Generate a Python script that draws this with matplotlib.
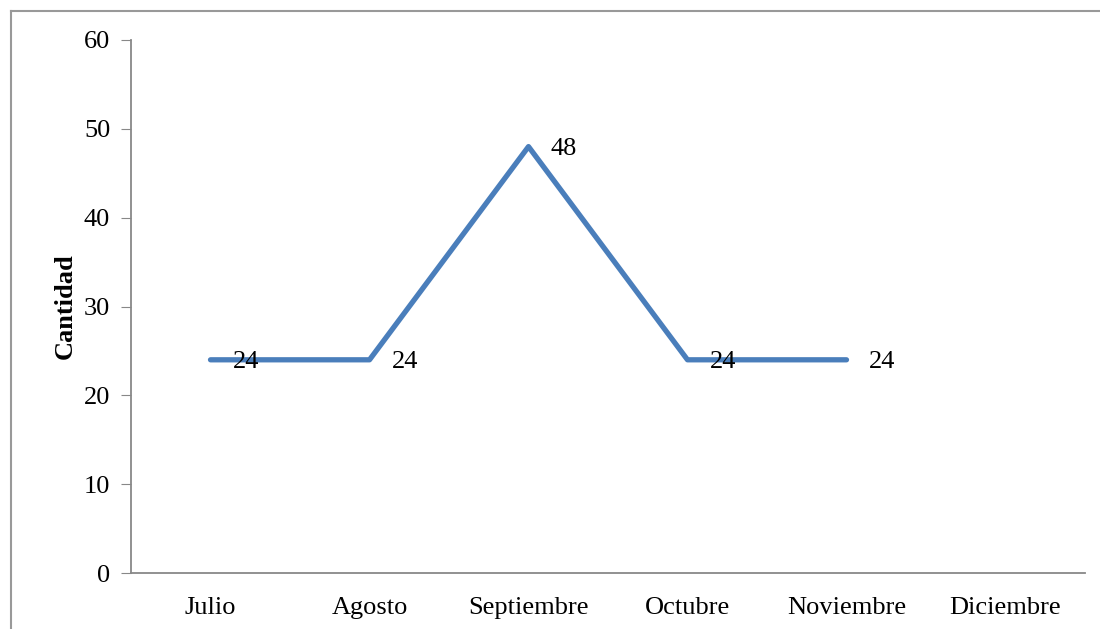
import matplotlib
matplotlib.use("Agg")
import matplotlib.pyplot as plt
import numpy as np

meses = ["Julio", "Agosto", "Septiembre", "Octubre", "Noviembre", "Diciembre"]
cantidad = [24, 24, 48, 24, 24, np.nan]

plt.rcParams["font.family"] = ["Liberation Serif", "DejaVu Serif"]

fig = plt.figure(figsize=(11, 6.29), dpi=100)
ax = fig.add_axes([131 / 1100, 56 / 629, 954 / 1100, 533 / 629])

x = np.arange(len(meses))
ax.plot(x, cantidad, color="#4A7EBB", linewidth=3.8, solid_capstyle="round")

# etiquetas de datos
for xi, v in zip(x, cantidad):
    if not np.isnan(v):
        ax.annotate(str(int(v)), (xi, v), xytext=(16, -1.5), textcoords="offset points",
                    va="center", ha="left", fontsize=19)

ax.set_xlim(-0.5, len(meses) - 0.5)
ax.set_ylim(0, 60)
ax.set_yticks(range(0, 61, 10))
ax.set_xticks(x)
ax.set_xticklabels(meses, fontsize=19)
ax.tick_params(axis="y", labelsize=19, length=7, color="#888888", direction="out", pad=8)
ax.tick_params(axis="x", length=0, pad=17)
ax.set_ylabel("Cantidad", fontsize=19, fontweight="bold", labelpad=5)

for s in ["top", "right"]:
    ax.spines[s].set_visible(False)
for s in ["left", "bottom"]:
    ax.spines[s].set_color("#888888")
    ax.spines[s].set_linewidth(1.3)

# borde del gráfico
fig.add_artist(plt.Line2D([11 / 1100, 11 / 1100], [0, 1 - 11 / 629], transform=fig.transFigure,
                          color="#999999", linewidth=1.5))
fig.add_artist(plt.Line2D([11 / 1100, 1], [1 - 11 / 629, 1 - 11 / 629], transform=fig.transFigure,
                          color="#999999", linewidth=1.5))

plt.savefig("out.png", dpi=100)
